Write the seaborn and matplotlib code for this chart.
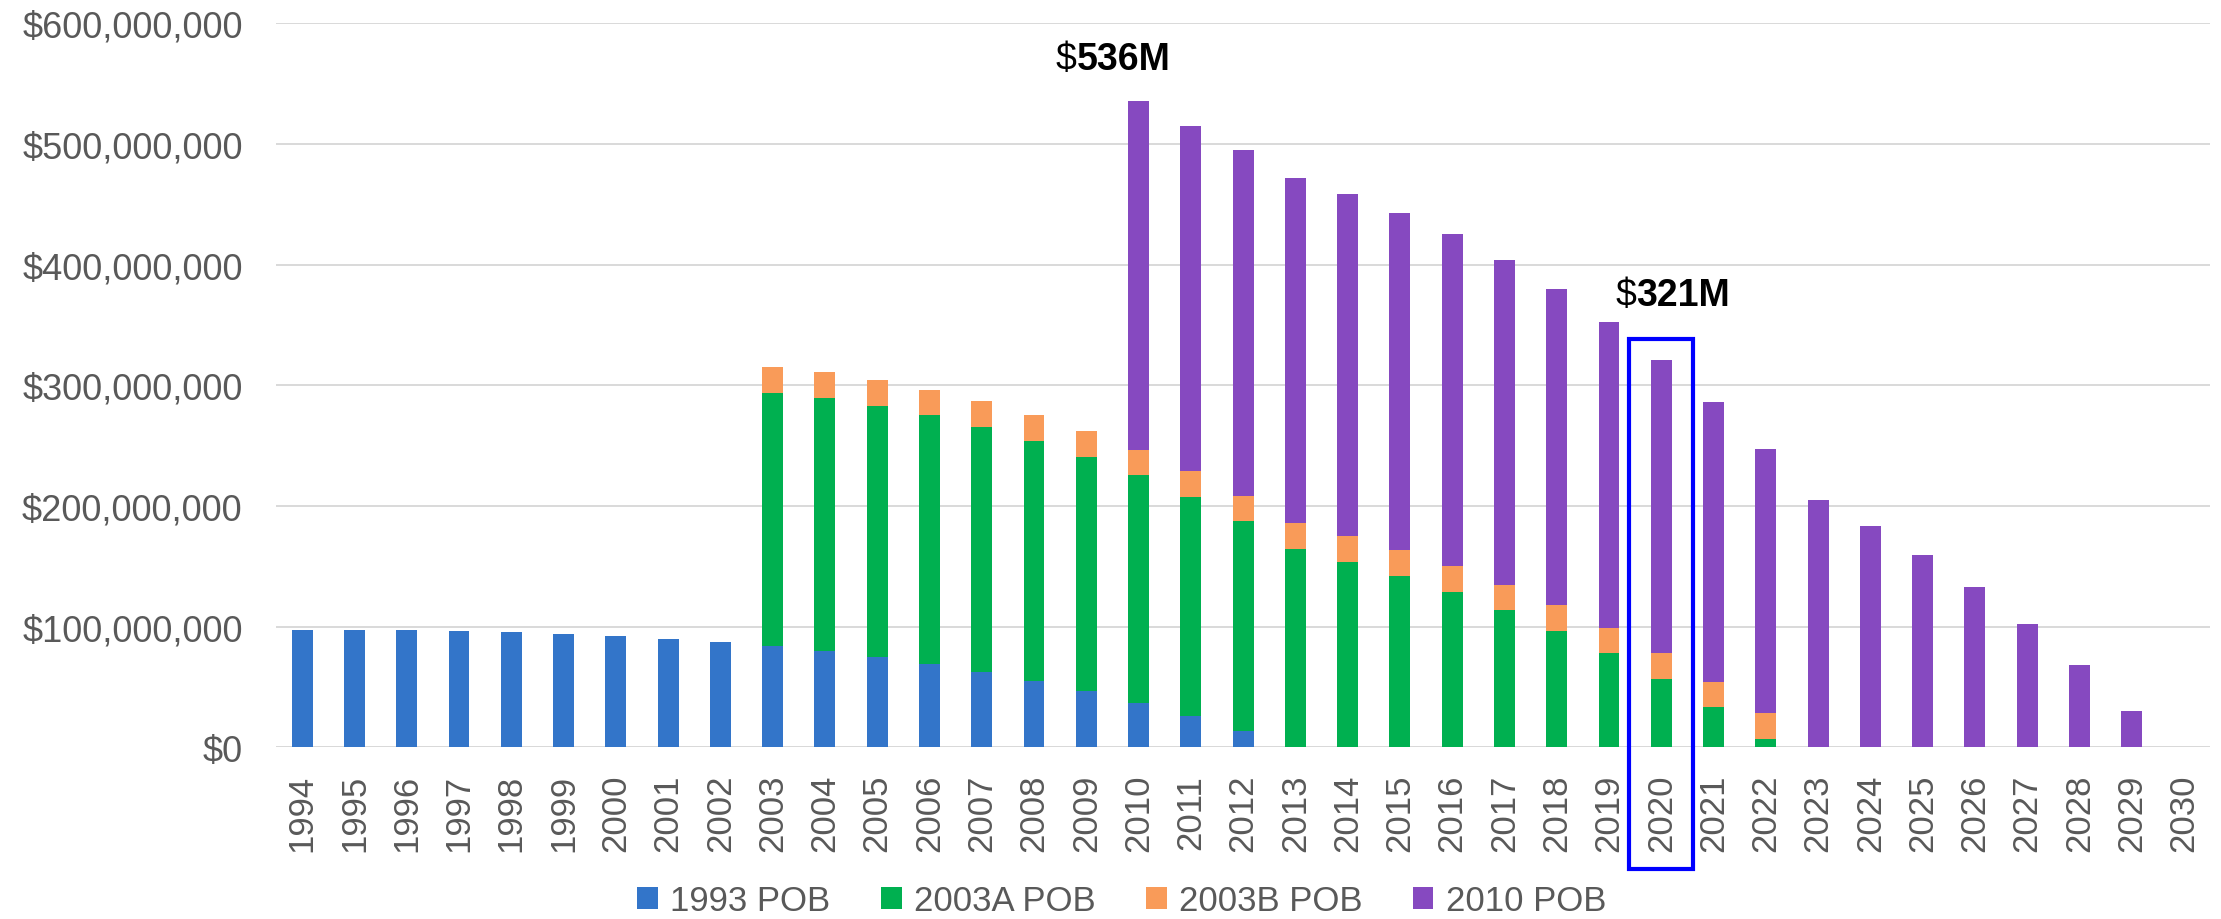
import numpy as np
import pandas as pd
import matplotlib
matplotlib.use("Agg")
import matplotlib.pyplot as plt
from matplotlib.patches import Patch, Rectangle
from matplotlib.ticker import FuncFormatter
import seaborn as sns

years = [str(y) for y in range(1994, 2031)]

pob_1993 = [97.2, 97.2, 96.9, 96.4, 95.3, 93.9, 92.0, 90.0, 87.0, 83.7,
            79.5, 74.8, 69.3, 62.6, 55.2, 46.6, 37.0, 25.9, 13.5, 0,
            0, 0, 0, 0, 0, 0, 0, 0, 0, 0,
            0, 0, 0, 0, 0, 0, 0]
pob_2003a = [0, 0, 0, 0, 0, 0, 0, 0, 0, 210.1,
             210.2, 208.2, 205.8, 203.0, 198.8, 194.2, 188.6, 181.7, 174.0, 164.5,
             153.8, 142.2, 128.9, 113.8, 96.6, 77.9, 56.6, 33.6, 7.1, 0,
             0, 0, 0, 0, 0, 0, 0]
pob_2003b = [0, 0, 0, 0, 0, 0, 0, 0, 0, 21.0,
             21.0, 21.1, 20.9, 21.1, 21.1, 21.0, 21.0, 21.3, 21.0, 21.1,
             21.5, 21.3, 21.1, 20.9, 21.0, 20.9, 21.5, 20.7, 21.3, 0,
             0, 0, 0, 0, 0, 0, 0]
pob_2010 = [0, 0, 0, 0, 0, 0, 0, 0, 0, 0,
            0, 0, 0, 0, 0, 0, 289.1, 286.1, 286.4, 286.3,
            283.6, 279.7, 275.0, 269.0, 261.8, 253.3, 242.8, 232.0, 219.0, 204.6,
            183.3, 159.6, 132.6, 101.9, 68.2, 30.3, 0]

series_names = ["1993 POB", "2003A POB", "2003B POB", "2010 POB"]
colors = ["#3375C9", "#00B050", "#F99B59", "#8649C0"]

callouts = [("2010", "536M"), ("2020", "321M")]
highlight_year = "2020"

M = 1e6
df = pd.DataFrame({"year": years,
                   "s1": np.array(pob_1993) * M,
                   "s2": np.array(pob_2003a) * M,
                   "s3": np.array(pob_2003b) * M,
                   "s4": np.array(pob_2010) * M})
df["c1"] = df["s1"]
df["c2"] = df["c1"] + df["s2"]
df["c3"] = df["c2"] + df["s3"]
df["c4"] = df["c3"] + df["s4"]

sns.set_theme(style="white")
plt.rcParams["font.family"] = ["Liberation Sans", "DejaVu Sans"]

fig = plt.figure(figsize=(22.21, 9.2), dpi=100)
ax = fig.add_axes([0.1243, 0.1866, 0.8708, 0.787])

for col, c in zip(["c4", "c3", "c2", "c1"], colors[::-1]):
    sns.barplot(data=df, x="year", y=col, order=years, color=c, width=0.4,
                saturation=1, ax=ax, linewidth=0)

ax.set_xlim(-0.5, len(years) - 0.5)
ax.set_ylim(0, 600 * M)
ax.set_yticks(np.arange(0, 600 * M + 1, 100 * M))
ax.yaxis.set_major_formatter(FuncFormatter(lambda v, p: r"\$" + f"{v:,.0f}"))
ax.set_xlabel("")
ax.set_ylabel("")
ax.grid(axis="y", color="#D9D9D9", linewidth=1.4)
ax.grid(axis="x", visible=False)
ax.set_axisbelow(True)
for s in ax.spines.values():
    s.set_visible(False)
ax.axhline(0, color="#D9D9D9", linewidth=1.4, zorder=0.5)

ax.tick_params(axis="y", length=0, pad=24, labelsize=26, labelcolor="#595959")
ax.tick_params(axis="x", length=0, pad=19, labelsize=25, labelcolor="#595959",
               labelrotation=90)

# callouts
xs = {y: i for i, y in enumerate(years)}
for yr, lab in callouts:
    i = xs[yr]
    top = df.loc[i, "c4"]
    xpos = i - 1.18 if yr == "2010" else i - 0.48
    ypos = top + 35 * M if yr == "2010" else top + 54 * M
    ax.text(xpos, ypos, r"\$", ha="right", va="center", fontsize=27, color="black")
    ax.text(xpos, ypos, lab, ha="left", va="center", fontsize=27,
            fontweight="bold", color="black")

# highlight box
hi = xs[highlight_year]
rect = Rectangle((hi - 0.62, -100.8 * M), 1.22, 439.1 * M, fill=False,
                 edgecolor="#0000FF", linewidth=3, clip_on=False, zorder=5)
ax.add_patch(rect)

handles = [Patch(facecolor=c, edgecolor="none", label=n) for n, c in zip(series_names, colors)]
fig.legend(handles=handles, loc="center", bbox_to_anchor=(0.505, 0.0196), ncol=4,
           frameon=False, fontsize=25, handlelength=0.6, handleheight=0.6,
           handletextpad=0.35, columnspacing=1.45, labelcolor="#595959")

fig.savefig("out.png", dpi=100)
